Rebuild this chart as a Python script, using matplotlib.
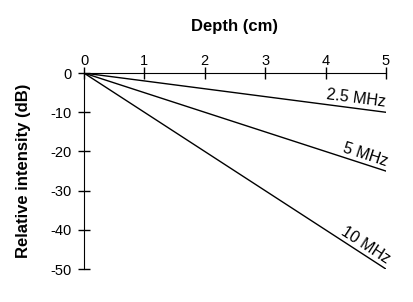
import numpy as np
import matplotlib.pyplot as plt

plt.rcParams['font.family'] = ['Liberation Sans', 'DejaVu Sans']
plt.rcParams['axes.unicode_minus'] = False

# Atténuation relative en fonction de la profondeur
depth = [0, 5]
labels = ['2.5 MHz', '5 MHz', '10 MHz']
intensity_end = [-10, -25, -50]

fig = plt.figure(figsize=(4.13, 3.02), dpi=100)
ax = fig.add_axes([0.2034, 0.109, 0.7312, 0.649])

ax.set_xlim(0, 5)
ax.set_ylim(-50, 0)

for lab, yend in zip(labels, intensity_end):
    ax.plot(depth, [0, yend], color='black', lw=1)
    xt = 4.98
    yt = yend * xt / 5
    # angle de la ligne à l'écran
    angle = ax.transData.transform_angles(np.array([np.degrees(np.arctan2(yend, 5))]),
                                          np.array([[xt, yt]]))[0]
    ax.annotate(lab, (xt, yt), xytext=(0, 1.5), textcoords='offset points',
                ha='right', va='bottom', rotation=angle,
                rotation_mode='anchor', fontsize=11.5)

ax.xaxis.tick_top()
ax.xaxis.set_label_position('top')
ax.set_xticks(range(0, 6))
ax.set_yticks(range(-50, 1, 10))
ax.spines['right'].set_visible(False)
ax.spines['bottom'].set_visible(False)
ax.tick_params(direction='inout', length=8, width=1, labelsize=10.5)
ax.tick_params(axis='x', pad=0)
ax.tick_params(axis='y', pad=5)
ax.set_xlabel('Depth (cm)', fontsize=12, fontweight='bold', labelpad=16)
ax.set_ylabel('Relative intensity (dB)', fontsize=12, fontweight='bold', labelpad=14)

fig.savefig('out.png', dpi=100)
